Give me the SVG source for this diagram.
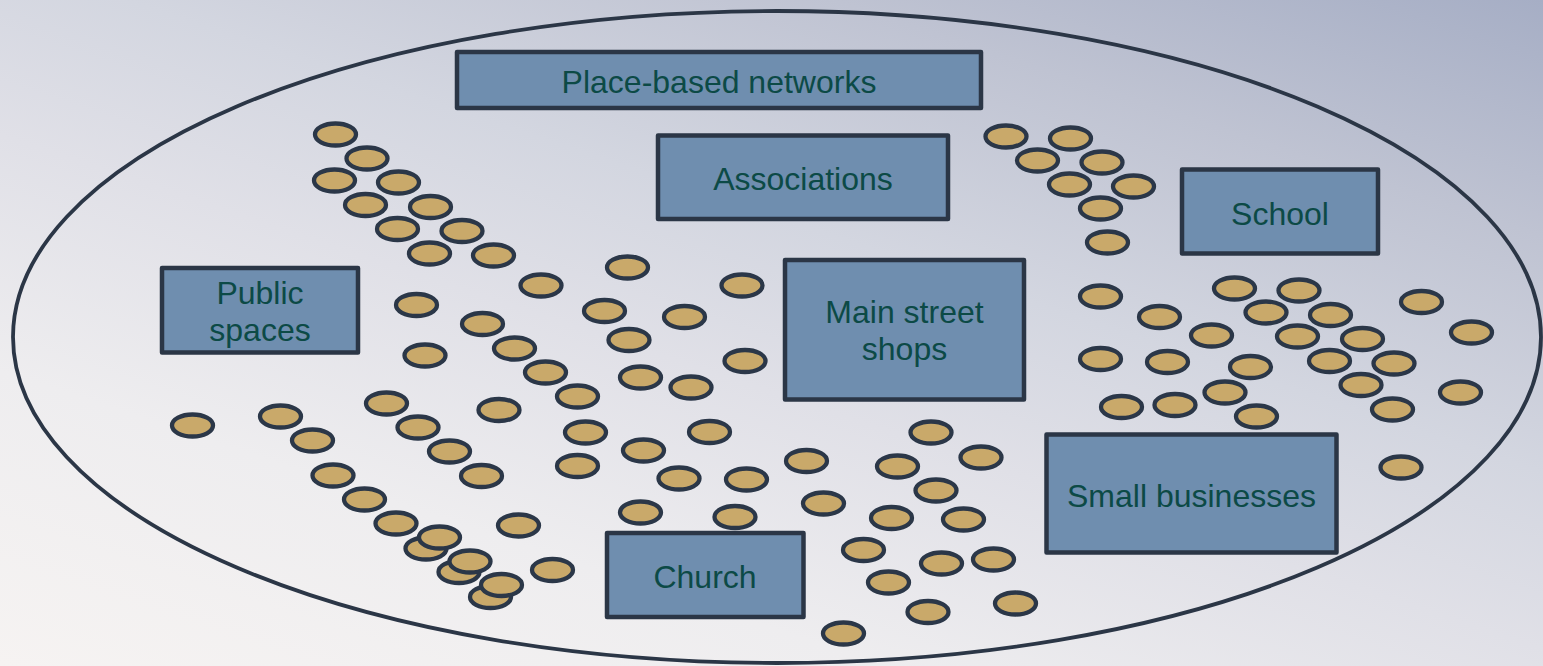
<svg xmlns="http://www.w3.org/2000/svg" width="1543" height="666" viewBox="0 0 1543 666">
<defs>
<linearGradient id="bg" gradientUnits="userSpaceOnUse" x1="0" y1="666" x2="354" y2="-396">
<stop offset="0" stop-color="#f6f3f2"/>
<stop offset="0.25" stop-color="#eeedef"/>
<stop offset="0.45" stop-color="#e0e0e7"/>
<stop offset="0.6" stop-color="#d3d6e0"/>
<stop offset="0.8" stop-color="#bfc3d2"/>
<stop offset="1" stop-color="#a6aec5"/>
</linearGradient>
<style>
.box{fill:#6f8eaf;stroke:#2b3646;stroke-width:4.5;stroke-linejoin:round}
.lbl{font-family:"Liberation Sans",Arial,sans-serif;font-size:32px;fill:#0c4a46;text-anchor:middle}
.dot{fill:#c9a96a;stroke:#2b3748;stroke-width:4.3}
.ring{fill:none;stroke:#2b3646;stroke-width:3.8}
</style>
</defs>
<rect x="0" y="0" width="1543" height="666" fill="url(#bg)"/>
<ellipse class="ring" cx="777" cy="337" rx="764" ry="326"/>

<g id="place-based-networks"><rect class="box" x="457" y="52" width="524" height="56"/><text class="lbl" x="719" y="93">Place-based networks</text></g>
<g id="associations"><rect class="box" x="658" y="135.5" width="290" height="83.5"/><text class="lbl" x="803" y="190">Associations</text></g>
<g id="school"><rect class="box" x="1182" y="169.5" width="196" height="84"/><text class="lbl" x="1280" y="225">School</text></g>
<g id="public-spaces"><rect class="box" x="162" y="268" width="196" height="84.5"/><text class="lbl" x="260" y="304">Public</text><text class="lbl" x="260" y="341">spaces</text></g>
<g id="main-street-shops"><rect class="box" x="785" y="260" width="239" height="139.5"/><text class="lbl" x="904.5" y="323">Main street</text><text class="lbl" x="904.5" y="360">shops</text></g>
<g id="small-businesses"><rect class="box" x="1046.5" y="434.5" width="290" height="118"/><text class="lbl" x="1191.5" y="507">Small businesses</text></g>
<g id="church"><rect class="box" x="607" y="533" width="196.5" height="84"/><text class="lbl" x="705" y="588">Church</text></g>

<g id="people">
<ellipse class="dot" cx="335.5" cy="134.5" rx="20.5" ry="11"/>
<ellipse class="dot" cx="367" cy="158.5" rx="20.5" ry="11"/>
<ellipse class="dot" cx="334.5" cy="180.5" rx="20.5" ry="11"/>
<ellipse class="dot" cx="398.5" cy="182.5" rx="20.5" ry="11"/>
<ellipse class="dot" cx="365.5" cy="205" rx="20.5" ry="11"/>
<ellipse class="dot" cx="430.5" cy="207" rx="20.5" ry="11"/>
<ellipse class="dot" cx="397.5" cy="229" rx="20.5" ry="11"/>
<ellipse class="dot" cx="462" cy="231" rx="20.5" ry="11"/>
<ellipse class="dot" cx="429.5" cy="253.5" rx="20.5" ry="11"/>
<ellipse class="dot" cx="493.5" cy="255.5" rx="20.5" ry="11"/>
<ellipse class="dot" cx="541" cy="285.5" rx="20.5" ry="11"/>

<ellipse class="dot" cx="627.5" cy="267.5" rx="20.5" ry="11"/>
<ellipse class="dot" cx="742" cy="285.5" rx="20.5" ry="11"/>
<ellipse class="dot" cx="416.5" cy="305" rx="20.5" ry="11"/>
<ellipse class="dot" cx="604.5" cy="311" rx="20.5" ry="11"/>
<ellipse class="dot" cx="684.5" cy="317" rx="20.5" ry="11"/>
<ellipse class="dot" cx="482.5" cy="324" rx="20.5" ry="11"/>
<ellipse class="dot" cx="629" cy="340" rx="20.5" ry="11"/>
<ellipse class="dot" cx="514.5" cy="348.5" rx="20.5" ry="11"/>
<ellipse class="dot" cx="425" cy="355.5" rx="20.5" ry="11"/>
<ellipse class="dot" cx="745" cy="361" rx="20.5" ry="11"/>
<ellipse class="dot" cx="545.5" cy="372.5" rx="20.5" ry="11"/>
<ellipse class="dot" cx="640.5" cy="377.5" rx="20.5" ry="11"/>
<ellipse class="dot" cx="691" cy="387.5" rx="20.5" ry="11"/>
<ellipse class="dot" cx="577.5" cy="396.5" rx="20.5" ry="11"/>
<ellipse class="dot" cx="386.5" cy="403.5" rx="20.5" ry="11"/>
<ellipse class="dot" cx="499" cy="410" rx="20.5" ry="11"/>
<ellipse class="dot" cx="192.5" cy="425.5" rx="20.5" ry="11"/>
<ellipse class="dot" cx="280.5" cy="416.5" rx="20.5" ry="11"/>
<ellipse class="dot" cx="418" cy="427.5" rx="20.5" ry="11"/>
<ellipse class="dot" cx="585.5" cy="432.5" rx="20.5" ry="11"/>
<ellipse class="dot" cx="709.5" cy="432" rx="20.5" ry="11"/>
<ellipse class="dot" cx="312.5" cy="440.5" rx="20.5" ry="11"/>
<ellipse class="dot" cx="449.5" cy="451.5" rx="20.5" ry="11"/>
<ellipse class="dot" cx="643.5" cy="450.5" rx="20.5" ry="11"/>
<ellipse class="dot" cx="577.5" cy="466" rx="20.5" ry="11"/>
<ellipse class="dot" cx="481.5" cy="476" rx="20.5" ry="11"/>
<ellipse class="dot" cx="679" cy="478.5" rx="20.5" ry="11"/>
<ellipse class="dot" cx="746.5" cy="479.5" rx="20.5" ry="11"/>
<ellipse class="dot" cx="333" cy="475.5" rx="20.5" ry="11"/>
<ellipse class="dot" cx="364.5" cy="499.5" rx="20.5" ry="11"/>
<ellipse class="dot" cx="396" cy="523.5" rx="20.5" ry="11"/>
<ellipse class="dot" cx="640.5" cy="512.5" rx="20.5" ry="11"/>
<ellipse class="dot" cx="735" cy="517" rx="20.5" ry="11"/>
<ellipse class="dot" cx="518.5" cy="525.5" rx="20.5" ry="11"/>
<ellipse class="dot" cx="426" cy="548.5" rx="20.5" ry="11"/>
<ellipse class="dot" cx="439.5" cy="537.5" rx="20.5" ry="11"/>
<ellipse class="dot" cx="459" cy="572" rx="20.5" ry="11"/>
<ellipse class="dot" cx="470" cy="561.5" rx="20.5" ry="11"/>
<ellipse class="dot" cx="490.5" cy="597" rx="20.5" ry="11"/>
<ellipse class="dot" cx="501.5" cy="585" rx="20.5" ry="11"/>
<ellipse class="dot" cx="552.5" cy="570" rx="20.5" ry="11"/>

<ellipse class="dot" cx="806.5" cy="461" rx="20.5" ry="11"/>
<ellipse class="dot" cx="931" cy="432.5" rx="20.5" ry="11"/>
<ellipse class="dot" cx="981" cy="457.5" rx="20.5" ry="11"/>
<ellipse class="dot" cx="897.5" cy="466.5" rx="20.5" ry="11"/>
<ellipse class="dot" cx="936" cy="490.5" rx="20.5" ry="11"/>
<ellipse class="dot" cx="823.5" cy="503.5" rx="20.5" ry="11"/>
<ellipse class="dot" cx="891.5" cy="518" rx="20.5" ry="11"/>
<ellipse class="dot" cx="963.5" cy="519.5" rx="20.5" ry="11"/>
<ellipse class="dot" cx="863.5" cy="550" rx="20.5" ry="11"/>
<ellipse class="dot" cx="941.5" cy="563.5" rx="20.5" ry="11"/>
<ellipse class="dot" cx="993.5" cy="559.5" rx="20.5" ry="11"/>
<ellipse class="dot" cx="888.5" cy="582.5" rx="20.5" ry="11"/>
<ellipse class="dot" cx="928" cy="612" rx="20.5" ry="11"/>
<ellipse class="dot" cx="1015.5" cy="603.5" rx="20.5" ry="11"/>
<ellipse class="dot" cx="843.5" cy="633.5" rx="20.5" ry="11"/>

<ellipse class="dot" cx="1006" cy="136.5" rx="20.5" ry="11"/>
<ellipse class="dot" cx="1070.5" cy="138.5" rx="20.5" ry="11"/>
<ellipse class="dot" cx="1037.5" cy="160.5" rx="20.5" ry="11"/>
<ellipse class="dot" cx="1102" cy="162.5" rx="20.5" ry="11"/>
<ellipse class="dot" cx="1069.5" cy="184.5" rx="20.5" ry="11"/>
<ellipse class="dot" cx="1133.5" cy="186.5" rx="20.5" ry="11"/>
<ellipse class="dot" cx="1100.5" cy="208.5" rx="20.5" ry="11"/>
<ellipse class="dot" cx="1107.5" cy="242.5" rx="20.5" ry="11"/>

<ellipse class="dot" cx="1100.5" cy="296.5" rx="20.5" ry="11"/>
<ellipse class="dot" cx="1234.5" cy="288.5" rx="20.5" ry="11"/>
<ellipse class="dot" cx="1299" cy="290.5" rx="20.5" ry="11"/>
<ellipse class="dot" cx="1421.5" cy="302" rx="20.5" ry="11"/>
<ellipse class="dot" cx="1159.5" cy="317" rx="20.5" ry="11"/>
<ellipse class="dot" cx="1266" cy="312.5" rx="20.5" ry="11"/>
<ellipse class="dot" cx="1330.5" cy="315" rx="20.5" ry="11"/>
<ellipse class="dot" cx="1211.5" cy="335.5" rx="20.5" ry="11"/>
<ellipse class="dot" cx="1297.5" cy="336.5" rx="20.5" ry="11"/>
<ellipse class="dot" cx="1362.5" cy="339" rx="20.5" ry="11"/>
<ellipse class="dot" cx="1471.5" cy="332.5" rx="20.5" ry="11"/>
<ellipse class="dot" cx="1100.5" cy="359" rx="20.5" ry="11"/>
<ellipse class="dot" cx="1167.5" cy="362" rx="20.5" ry="11"/>
<ellipse class="dot" cx="1250.5" cy="367" rx="20.5" ry="11"/>
<ellipse class="dot" cx="1329.5" cy="361" rx="20.5" ry="11"/>
<ellipse class="dot" cx="1394" cy="363.5" rx="20.5" ry="11"/>
<ellipse class="dot" cx="1361" cy="385" rx="20.5" ry="11"/>
<ellipse class="dot" cx="1225" cy="392.5" rx="20.5" ry="11"/>
<ellipse class="dot" cx="1460.5" cy="392.5" rx="20.5" ry="11"/>
<ellipse class="dot" cx="1121.5" cy="407" rx="20.5" ry="11"/>
<ellipse class="dot" cx="1175" cy="405" rx="20.5" ry="11"/>
<ellipse class="dot" cx="1256.5" cy="416.5" rx="20.5" ry="11"/>
<ellipse class="dot" cx="1392.5" cy="409.5" rx="20.5" ry="11"/>
<ellipse class="dot" cx="1401" cy="467.5" rx="20.5" ry="11"/>
</g>
</svg>
